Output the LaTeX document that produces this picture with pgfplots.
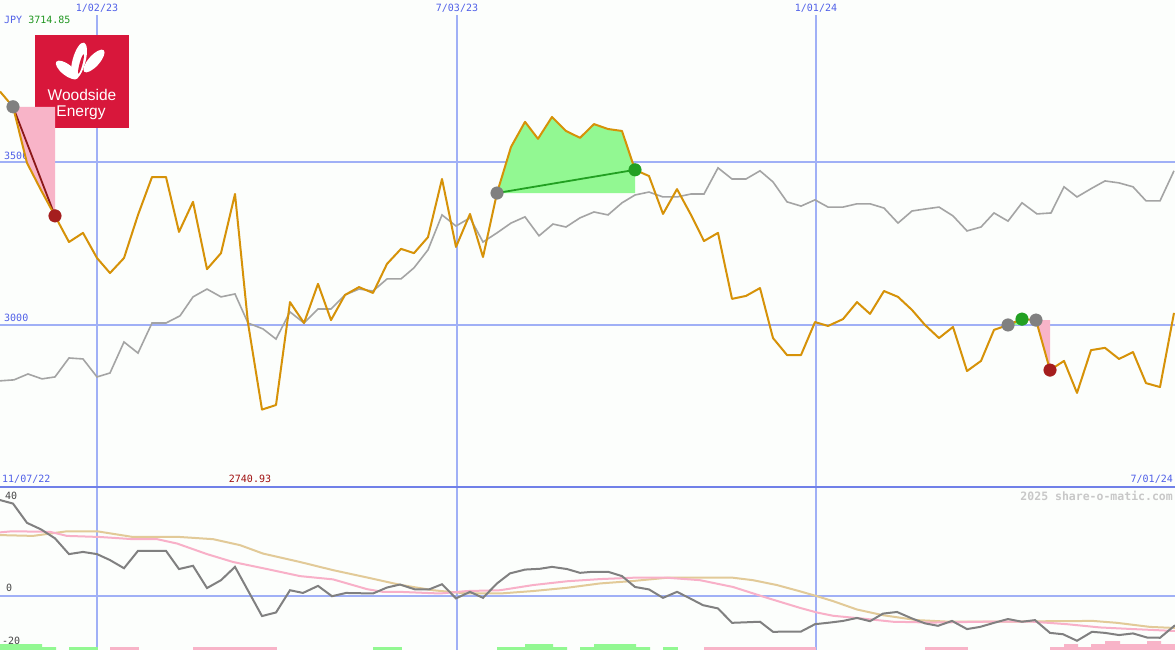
\documentclass[border=0pt]{standalone}
\usepackage{pgfplots}
\usepackage{pgfplotstable}
\pgfplotsset{compat=1.18}
\usepackage{fontspec}
\setmainfont{Liberation Sans}
\newfontfamily\monof{DejaVu Sans Mono}
\newfontfamily\logof{Liberation Sans}
\definecolor{bg}{RGB}{252,254,252}
\definecolor{orangel}{RGB}{214,146,8}
\definecolor{grayl}{RGB}{164,164,164}
\definecolor{dgray}{RGB}{128,128,128}
\definecolor{pinkl}{RGB}{248,176,200}
\definecolor{tanl}{RGB}{226,202,152}
\definecolor{gridblue}{RGB}{160,176,246}
\definecolor{sepblue}{RGB}{112,128,232}
\definecolor{lblue}{RGB}{80,96,232}
\definecolor{tgreen}{RGB}{32,150,32}
\definecolor{tred}{RGB}{160,16,16}
\definecolor{fillpink}{RGB}{248,180,200}
\definecolor{fillgreen}{RGB}{146,248,146}
\definecolor{dotgray}{RGB}{128,128,128}
\definecolor{dotred}{RGB}{165,30,30}
\definecolor{dotgreen}{RGB}{34,160,34}
\definecolor{logored}{RGB}{216,23,59}
\definecolor{wmgray}{RGB}{200,200,200}
\definecolor{lowtext}{RGB}{70,70,70}

\pgfplotstableread{
x y
0 3714.85
13 3668
27 3496
41 3413
55 3334
69 3254
83 3282
97 3205
110 3159
124 3205
138 3337
152 3453
166 3453
179 3285
193 3377
207 3171
221 3220
235 3401
248 3006
262 2741
276 2755
290 3070
304 3006
318 3126
331 3015
345 3092
359 3116
373 3098
387 3187
401 3233
414 3220
428 3269
442 3447
456 3239
470 3340
483 3208
497 3404
511 3545
525 3622
538 3570
552 3637
566 3594
580 3573
594 3615
608 3600
622 3594
635 3475
649 3456
663 3340
677 3416
691 3337
704 3257
718 3282
732 3080
746 3089
760 3113
773 2960
787 2908
801 2908
815 3009
828 2997
843 3018
857 3070
870 3034
884 3104
898 3086
912 3046
925 3000
939 2960
953 2994
967 2859
981 2890
994 2985
1008 3000
1022 3018
1036 3015
1050 2862
1064 2890
1077 2792
1091 2923
1105 2930
1119 2896
1133 2917
1146 2822
1160 2810
1174 3037
}\pricetable

\pgfplotstableread{
x y
0 2829
14 2832
28 2850
42 2835
55 2841
69 2899
83 2896
97 2841
110 2853
124 2948
138 2914
152 3006
166 3006
180 3028
193 3086
207 3110
221 3086
235 3095
248 3006
263 2988
276 2957
290 3040
304 3006
318 3049
331 3049
345 3092
359 3110
373 3104
387 3141
401 3141
414 3175
428 3230
442 3337
456 3303
470 3328
483 3254
497 3282
511 3312
525 3331
539 3273
553 3309
566 3300
580 3328
594 3346
608 3337
622 3374
635 3398
649 3407
663 3392
677 3392
691 3401
704 3401
718 3481
732 3447
746 3447
760 3472
773 3438
787 3377
801 3364
815 3383
828 3361
843 3361
857 3371
870 3371
884 3358
898 3312
912 3349
925 3355
939 3361
953 3334
967 3288
981 3300
994 3343
1008 3318
1022 3374
1037 3340
1051 3343
1064 3423
1077 3392
1092 3419
1105 3441
1119 3435
1133 3423
1146 3380
1160 3380
1174 3472
}\indextable

\pgfplotstableread{
x y
0 35.2
13 33.9
27 26.8
41 24.4
55 21.1
69 15.3
83 16.1
97 15.3
110 13.1
124 10.1
138 16.5
166 16.5
179 9.8
193 11.0
207 2.8
221 5.7
235 10.6
262 -7.5
276 -6.2
290 2.0
303 1.0
318 3.6
332 -0.2
346 1.0
373 0.8
387 3.0
400 4.1
415 2.3
429 2.3
442 4.2
456 -1.0
470 1.4
483 -0.8
497 4.5
510 8.2
525 9.6
540 9.9
552 10.6
567 9.8
580 8.4
593 8.8
608 8.8
622 7.2
635 3.2
649 2.3
663 -0.8
677 1.4
690 -1.0
703 -3.5
718 -4.7
732 -10.0
760 -9.6
773 -13.3
801 -13.2
815 -10.5
830 -9.9
843 -9.3
857 -8.2
870 -9.4
883 -6.6
897 -6.0
912 -8.4
925 -10.2
938 -11.1
952 -9.3
967 -12.3
980 -11.5
994 -10.0
1008 -8.6
1022 -9.6
1035 -9.0
1050 -13.7
1063 -14.2
1077 -16.6
1092 -13.3
1105 -13.7
1119 -14.5
1133 -13.9
1147 -15.4
1160 -15.5
1175 -10.9
}\momtable

\pgfplotstableread{
x y
0 23.3
12 23.7
50 23.5
67 22.0
100 21.6
133 20.8
157 20.8
177 19.2
207 15.3
233 12.4
267 9.8
300 7.2
333 6.0
367 2.4
383 1.4
400 1.4
440 0.8
467 1.7
500 2.0
533 3.9
567 5.3
600 6.1
633 6.6
667 6.6
700 5.7
733 3.2
767 -0.8
800 -4.5
817 -6.2
833 -7.4
867 -8.6
893 -9.6
933 -9.9
983 -9.6
1033 -9.6
1067 -10.5
1100 -11.7
1133 -12.3
1175 -13.0
}\pinktable

\pgfplotstableread{
x y
0 22.3
33 22.0
67 23.7
97 23.7
133 21.6
180 21.6
213 20.8
240 18.6
263 15.5
300 12.4
333 9.4
367 6.7
400 4.0
433 2.0
467 0.8
500 0.8
533 1.7
567 2.9
600 4.5
633 5.4
667 6.6
733 6.6
753 5.7
777 3.9
800 1.6
817 -0.2
833 -2.0
857 -5.1
883 -7.2
917 -9.0
950 -9.6
1000 -9.6
1050 -9.4
1093 -9.3
1117 -10.0
1150 -11.5
1175 -11.9
}\tantable

\begin{document}
\begin{tikzpicture}
\useasboundingbox (0pt,0pt) rectangle (1175pt,650pt);
\fill[bg] (0pt,0pt) rectangle (1175pt,650pt);

% logo
\fill[logored] (35pt,522pt) rectangle (129pt,615pt);
\fill[white, rotate around={-15:(79pt,589pt)}] (79pt,589pt) ellipse (6.5pt and 19pt);
\fill[white, rotate around={52:(67pt,580pt)}] (67pt,580pt) ellipse (5.5pt and 13.5pt);
\fill[white, rotate around={-42:(94pt,589pt)}] (94pt,589pt) ellipse (5.5pt and 14.5pt);
\fill[logored, rotate around={-15:(81pt,586pt)}] (81pt,586pt) ellipse (1.5pt and 10pt);
\node[white, inner sep=0pt, font=\logof\fontsize{15.5}{16}\selectfont] at (82pt,555pt) {Woodside};
\node[white, inner sep=0pt, font=\logof\fontsize{15.5}{16}\selectfont] at (81pt,537pt) {Energy};

\node[anchor=west, inner sep=0pt, text=lblue, font=\monof\fontsize{10}{12}\selectfont] at (4pt,494pt) {3500};
\node[anchor=west, inner sep=0pt, text=lblue, font=\monof\fontsize{10}{12}\selectfont] at (4pt,332pt) {3000};

% upper panel
\begin{axis}[at={(0pt,163pt)}, anchor=south west, scale only axis,
  width=1175pt, height=487pt, xmin=0, xmax=1175, ymin=2504, ymax=3995,
  hide axis]
  \draw[gridblue, line width=1.3pt] (97,3949) -- (97,3888);
  \draw[gridblue, line width=1.3pt] (97,3603) -- (97,2504);
  \draw[gridblue, line width=1.3pt] (457,3949) -- (457,2504);
  \draw[gridblue, line width=1.3pt] (816,3949) -- (816,2504);
  \draw[gridblue, line width=2pt] (0,3500) -- (1175,3500);
  \draw[gridblue, line width=2pt] (0,3000) -- (1175,3000);
  \addplot[fill=fillpink, draw=none] coordinates {(13,3668) (27,3496) (41,3413) (55,3334) (55,3668)} -- cycle;
  \addplot[fill=fillgreen, draw=none] coordinates {(497,3404) (511,3545) (525,3622) (538,3570) (552,3637) (566,3594) (580,3573) (594,3615) (608,3600) (622,3594) (635,3475) (635,3404)} -- cycle;
  \addplot[fill=fillgreen, draw=none] coordinates {(1008,3000) (1022,3018) (1022,3000)} -- cycle;
  \addplot[fill=fillpink, draw=none] coordinates {(1036,3015) (1050,2862) (1050,3015)} -- cycle;
  \addplot[only marks, mark=*, mark size=6.3pt, color=dotgray] coordinates {(13,3668) (497,3404) (1008,3000) (1036,3015)};
  \addplot[only marks, mark=*, mark size=6.3pt, color=dotred] coordinates {(55,3334) (1050,2862)};
  \addplot[only marks, mark=*, mark size=6.3pt, color=dotgreen] coordinates {(635,3475) (1022,3018)};
  \addplot[dotred!85!black, line width=1.8pt, no marks] coordinates {(13,3668) (55,3334)};
  \addplot[dotgreen, line width=1.8pt, no marks] coordinates {(497,3404) (635,3475)};
  \addplot[dotgreen, line width=1.8pt, no marks] coordinates {(1008,3000) (1022,3018)};
  \addplot[grayl, line width=1.6pt, no marks] table[x=x,y=y] {\indextable};
  \addplot[orangel, line width=2pt, no marks, line join=round] table[x=x,y=y] {\pricetable};
\end{axis}

% lower panel
\begin{axis}[at={(0pt,0pt)}, anchor=south west, scale only axis,
  width=1175pt, height=163pt, xmin=0, xmax=1175, ymin=-20, ymax=40,
  hide axis]
  \draw[gridblue, line width=1.3pt] (97,-20) -- (97,40);
  \draw[gridblue, line width=1.3pt] (457,-20) -- (457,40);
  \draw[gridblue, line width=1.3pt] (816,-20) -- (816,40);
  \draw[gridblue, line width=2pt] (0,0) -- (1175,0);
  \addplot[fill=fillgreen, draw=none] coordinates {(0,-20) (0,-17.8) (42,-17.8) (42,-18.9) (56,-18.9) (56,-20)} -- cycle;
  \addplot[fill=fillgreen, draw=none] coordinates {(69,-20) (69,-18.9) (98,-18.9) (98,-20)} -- cycle;
  \addplot[fill=fillgreen, draw=none] coordinates {(373,-20) (373,-18.9) (402,-18.9) (402,-20)} -- cycle;
  \addplot[fill=fillgreen, draw=none] coordinates {(497,-20) (497,-18.9) (525,-18.9) (525,-17.8) (553,-17.8) (553,-18.9) (567,-18.9) (567,-20)} -- cycle;
  \addplot[fill=fillgreen, draw=none] coordinates {(580,-20) (580,-18.9) (594,-18.9) (594,-17.8) (636,-17.8) (636,-18.9) (650,-18.9) (650,-20)} -- cycle;
  \addplot[fill=fillgreen, draw=none] coordinates {(663,-20) (663,-18.9) (678,-18.9) (678,-20)} -- cycle;
  \addplot[fill=fillpink, draw=none] coordinates {(110,-20) (110,-18.9) (139,-18.9) (139,-20)} -- cycle;
  \addplot[fill=fillpink, draw=none] coordinates {(193,-20) (193,-18.9) (277,-18.9) (277,-20)} -- cycle;
  \addplot[fill=fillpink, draw=none] coordinates {(704,-20) (704,-18.9) (816,-18.9) (816,-20)} -- cycle;
  \addplot[fill=fillpink, draw=none] coordinates {(925,-20) (925,-18.9) (968,-18.9) (968,-20)} -- cycle;
  \addplot[fill=fillpink, draw=none] coordinates {(1050,-20) (1050,-18.9) (1064,-18.9) (1064,-17.8) (1078,-17.8) (1078,-18.9) (1091,-18.9) (1091,-17.8) (1105,-17.8) (1105,-16.7) (1120,-16.7) (1120,-17.8) (1147,-17.8) (1147,-16.7) (1161,-16.7) (1161,-17.8) (1175,-17.8) (1175,-20)} -- cycle;
  \addplot[tanl, line width=2pt, no marks] table[x=x,y=y] {\tantable};
  \addplot[pinkl, line width=2pt, no marks] table[x=x,y=y] {\pinktable};
  \addplot[dgray, line width=2pt, no marks] table[x=x,y=y] {\momtable};
\end{axis}

\draw[sepblue, line width=2.5pt] (0pt,163pt) -- (1175pt,163pt);

% labels
\node[anchor=west, inner sep=0pt, font=\monof\fontsize{10}{12}\selectfont] at (4pt,630pt) {\textcolor{lblue}{JPY} \textcolor{tgreen}{3714.85}};
\node[inner sep=0pt, text=lblue, font=\monof\fontsize{10}{12}\selectfont] at (97pt,642pt) {1/02/23};
\node[inner sep=0pt, text=lblue, font=\monof\fontsize{10}{12}\selectfont] at (457pt,642pt) {7/03/23};
\node[inner sep=0pt, text=lblue, font=\monof\fontsize{10}{12}\selectfont] at (816pt,642pt) {1/01/24};
\node[anchor=west, inner sep=0pt, text=lblue, font=\monof\fontsize{10}{12}\selectfont] at (2pt,171pt) {11/07/22};
\node[inner sep=0pt, text=tred, font=\monof\fontsize{10}{12}\selectfont] at (250pt,171pt) {2740.93};
\node[anchor=east, inner sep=0pt, text=lblue, font=\monof\fontsize{10}{12}\selectfont] at (1173pt,171pt) {7/01/24};
\node[anchor=west, inner sep=0pt, text=lowtext, font=\monof\fontsize{10}{12}\selectfont] at (5pt,154pt) {40};
\node[anchor=west, inner sep=0pt, text=lowtext, font=\monof\fontsize{10}{12}\selectfont] at (6pt,62pt) {0};
\node[anchor=west, inner sep=0pt, text=lowtext, font=\monof\fontsize{10}{12}\selectfont] at (2pt,9pt) {-20};
\node[anchor=east, inner sep=0pt, text=wmgray, font=\monof\bfseries\fontsize{11.5}{13}\selectfont] at (1173pt,154pt) {2025 share-o-matic.com};
\end{tikzpicture}
\end{document}
